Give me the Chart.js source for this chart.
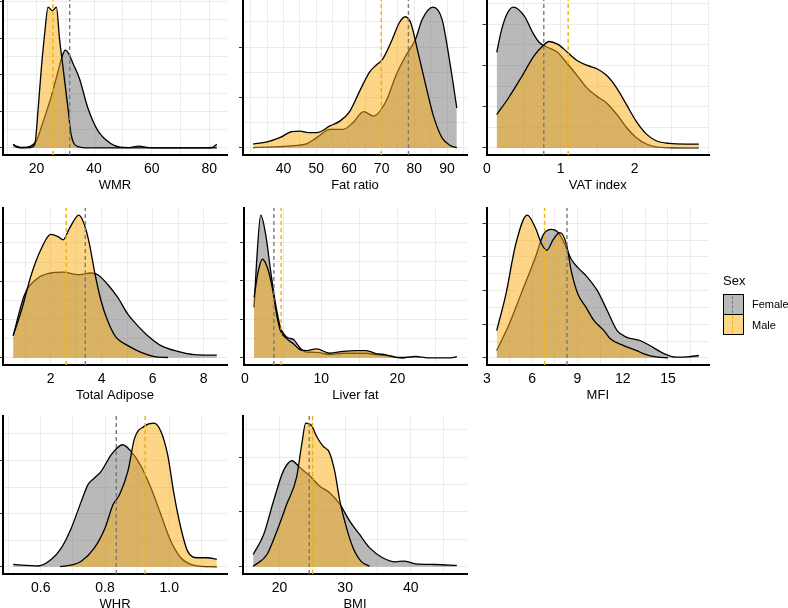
<!DOCTYPE html>
<html>
<head>
<meta charset="utf-8">
<script src="https://cdn.jsdelivr.net/npm/chart.js@4.4.1/dist/chart.umd.min.js"></script>
<style>
  body { margin: 0; width: 788px; height: 608px; overflow: hidden; background: #fff; position: relative;
         font-family: "Liberation Sans", Arial, sans-serif; }
  .panel { position: absolute; }
  .lg-title { position: absolute; font-size: 13px; color: #000; }
  .key { position: absolute; width: 21px; height: 21px; box-sizing: border-box; border: 1.5px solid #000; }
  .key span { position: absolute; left: 8px; top: 1px; bottom: 1px; border-left: 1.4px dashed; }
  .lab { position: absolute; font-size: 11px; color: #000; }
</style>
</head>
<body>
<div id="panels"></div>
<div class="lg-title" style="left:723px;top:273px">Sex</div>
<div class="key" id="keyF" style="left:723px;top:294px"><span id="dashF"></span></div>
<div class="key" id="keyM" style="left:723px;top:314px"><span id="dashM"></span></div>
<div class="lab" style="left:752px;top:298px">Female</div>
<div class="lab" style="left:752px;top:319px">Male</div>
<script>
// density curves (x, density) per sex and panel
const wmrFemaleX = [11.9, 13, 15, 18, 20, 22, 25, 27.5, 29, 30, 31, 32.7, 34.9, 37.8, 41.3, 45.9, 49, 52, 55.5, 59, 65, 75, 81, 82.6];
const wmrFemaleY = [0.004, 0.002, 0.0005, 0.002, 0.008, 0.026, 0.055, 0.084, 0.101, 0.107, 0.104, 0.092, 0.076, 0.044, 0.019, 0.0046, 0.0008, 0.0003, 0.002, 0.0003, 0, 0, 0.0005, 0.004];
const wmrMaleX = [11.9, 13, 16, 18, 19.4, 20.6, 21.7, 22.9, 24, 25.5, 26.9, 28, 29.2, 30.9, 32, 34.4, 38, 50, 70, 82.6];
const wmrMaleY = [0.004, 0.001, 0, 0.0005, 0.004, 0.044, 0.088, 0.127, 0.154, 0.150, 0.154, 0.119, 0.088, 0.044, 0.015, 0.0015, 0, 0, 0, 0];

const fatFemaleX = [30.7, 35, 39, 43, 47, 50, 54.2, 58.2, 61.2, 64.5, 67.5, 71.3, 74.4, 77.5, 80.4, 82.4, 85.7, 88.5, 91, 93];
const fatFemaleY = [0.0002, 0.0004, 0.0007, 0.0012, 0.002, 0.005, 0.0092, 0.0092, 0.0125, 0.018, 0.0158, 0.023, 0.036, 0.046, 0.054, 0.0636, 0.0698, 0.0636, 0.041, 0.0198];
const fatMaleX = [30.7, 35, 39, 42.5, 45, 47.6, 50.1, 54.2, 57.2, 60.2, 63.2, 66.3, 68.3, 70.3, 73.3, 75.4, 77.2, 78.9, 80.9, 83.5, 86, 88.5, 91, 93];
const fatMaleY = [0.0019, 0.003, 0.0052, 0.0081, 0.0083, 0.0076, 0.0076, 0.0109, 0.0133, 0.018, 0.0279, 0.0376, 0.041, 0.044, 0.054, 0.062, 0.065, 0.062, 0.049, 0.031, 0.015, 0.005, 0.0012, 0.0002];

const vatFemaleX = [0.133, 0.2, 0.28, 0.356, 0.51, 0.62, 0.71, 0.82, 0.956, 1.09, 1.22, 1.36, 1.49, 1.62, 1.76, 1.89, 2.02, 2.16, 2.29, 2.5, 2.87];
const vatFemaleY = [0.927, 1.15, 1.31, 1.366, 1.276, 1.118, 1.022, 0.976, 0.928, 0.816, 0.704, 0.578, 0.5, 0.436, 0.324, 0.198, 0.102, 0.038, 0.01, 0.002, 0];
const vatMaleX = [0.133, 0.29, 0.47, 0.64, 0.76, 0.84, 0.956, 1.09, 1.22, 1.36, 1.49, 1.62, 1.76, 1.89, 2.02, 2.16, 2.29, 2.47, 2.7, 2.87];
const vatMaleY = [0.324, 0.482, 0.69, 0.896, 0.99, 1.032, 1.006, 0.928, 0.848, 0.8, 0.768, 0.704, 0.578, 0.42, 0.26, 0.134, 0.07, 0.044, 0.038, 0.038];

const adiFemaleX = [0.53, 0.98, 1.5, 2.0, 2.49, 3.07, 3.59, 3.85, 4.24, 4.64, 5.03, 5.42, 5.81, 6.33, 6.99, 7.64, 8.52];
const adiFemaleY = [0.058, 0.1655, 0.2085, 0.2215, 0.224, 0.217, 0.2215, 0.217, 0.1915, 0.157, 0.114, 0.0835, 0.058, 0.032, 0.017, 0.0085, 0.007];
const adiMaleX = [0.53, 0.85, 1.24, 1.64, 2.0, 2.29, 2.49, 2.74, 3.11, 3.33, 3.53, 3.72, 3.98, 4.24, 4.57, 5.03, 5.55, 6.07, 6.6];
const adiMaleY = [0.058, 0.1225, 0.217, 0.286, 0.3225, 0.3165, 0.308, 0.338, 0.3725, 0.3465, 0.295, 0.226, 0.1485, 0.0965, 0.0535, 0.032, 0.0145, 0.0035, 0.001];

const livFemaleX = [1.2, 1.6, 2.07, 2.72, 3.37, 4.02, 4.66, 5.53, 6.39, 7.25, 8.1, 9.4, 11.1, 12.9, 14.6, 15.9, 17.2, 18.5, 19.8, 21, 22.4, 24, 27, 27.8];
const livFemaleY = [0.131, 0.27, 0.3705, 0.3205, 0.226, 0.1395, 0.0795, 0.0535, 0.0475, 0.025, 0.015, 0.0145, 0.0085, 0.012, 0.012, 0.012, 0.0085, 0.006, 0.0015, 0.001, 0.0035, 0, 0, 0.0035];
const livMaleX = [1.2, 1.7, 2.29, 2.94, 3.58, 4.23, 4.66, 5.53, 6.39, 7.25, 8.1, 9.4, 11.1, 12.9, 14.6, 15.9, 17.2, 18.5, 19.8, 21];
const livMaleY = [0.157, 0.22, 0.256, 0.2345, 0.183, 0.105, 0.0705, 0.049, 0.036, 0.021, 0.019, 0.0235, 0.012, 0.017, 0.019, 0.019, 0.011, 0.008, 0.0015, 0];

const mfiFemaleX = [3.65, 4.48, 5.34, 6.21, 6.75, 7.29, 7.73, 8.16, 8.59, 9.03, 9.68, 10.33, 10.98, 11.63, 12.28, 13.15, 13.8, 14.67, 15.54, 16.3, 17.05];
const mfiFemaleY = [0.0108, 0.0503, 0.0995, 0.149, 0.1835, 0.1908, 0.186, 0.1688, 0.1465, 0.134, 0.1193, 0.0995, 0.07, 0.0405, 0.0305, 0.0258, 0.0183, 0.007, 0.001, 0.0015, 0.0035];
const mfiMaleX = [3.65, 4.26, 4.91, 5.67, 6.21, 6.64, 6.97, 7.40, 7.84, 8.27, 8.59, 9.03, 9.57, 10.1, 10.76, 11.2, 12.06, 12.93, 13.4, 14.3, 15];
const mfiMaleY = [0.0405, 0.0948, 0.1688, 0.212, 0.1933, 0.1688, 0.1598, 0.176, 0.186, 0.1688, 0.1293, 0.0948, 0.075, 0.0553, 0.0405, 0.028, 0.0183, 0.0108, 0.006, 0.001, 0];

const whrFemaleX = [0.514, 0.54, 0.592, 0.633, 0.664, 0.695, 0.726, 0.747, 0.767, 0.788, 0.819, 0.855, 0.881, 0.912, 0.943, 0.974, 1.005, 1.036, 1.067, 1.1, 1.148];
const whrFemaleY = [0.1125, 0.075, 0.0375, 0.35, 0.8875, 1.825, 3.075, 3.8625, 4.175, 4.4875, 5.2625, 5.7375, 5.425, 4.725, 3.7, 2.45, 1.2, 0.425, 0.1125, 0.025, 0];
const whrMaleX = [0.66, 0.7, 0.726, 0.767, 0.8, 0.825, 0.845, 0.871, 0.892, 0.922, 0.952, 0.974, 0.995, 1.015, 1.036, 1.057, 1.088, 1.119, 1.148];
const whrMaleY = [0.0125, 0.1, 0.2625, 0.8875, 1.825, 2.925, 3.3875, 4.4875, 6.05, 6.6, 6.75, 6.3625, 5.2625, 3.3875, 1.825, 0.7375, 0.425, 0.425, 0.35];

const bmiFemaleX = [16, 17.6, 19.1, 20.6, 21.9, 23.1, 24.6, 26.1, 27.6, 29.2, 30.7, 32.2, 33.7, 35.7, 37.7, 38.9, 40.7, 43.8, 47];
const bmiFemaleY = [0.009, 0.0236, 0.048, 0.07, 0.0774, 0.0724, 0.0664, 0.059, 0.0542, 0.0456, 0.0334, 0.0236, 0.014, 0.0066, 0.0036, 0.0042, 0.0022, 0.0017, 0.001];
const bmiMaleX = [16, 18.1, 19.6, 21.1, 22.6, 23.4, 24.0, 24.9, 25.6, 26.6, 27.6, 28.4, 29.2, 30.2, 31.2, 32.4, 33.7];
const bmiMaleY = [0.0004, 0.009, 0.026, 0.0456, 0.0652, 0.0896, 0.1048, 0.103, 0.0956, 0.0882, 0.0834, 0.07, 0.048, 0.0286, 0.014, 0.0042, 0.0004];

// group means (dashed lines), in panel order
const titles = ["WMR", "Fat ratio", "VAT index", "Total Adipose", "Liver fat", "MFI", "WHR", "BMI"];
const femaleMeans = [31.5, 78.2, 0.77, 3.36, 3.8, 8.31, 0.835, 24.53];
const maleMeans = [25.7, 69.9, 1.10, 2.61, 4.75, 6.82, 0.925, 25.04];

// x tick labels per panel
const wmrTicks = ["20", "40", "60", "80"];
const fatTicks = ["40", "50", "60", "70", "80", "90"];
const vatTicks = ["0", "1", "2"];
const adiTicks = ["2", "4", "6", "8"];
const livTicks = ["0", "10", "20"];
const mfiTicks = ["3", "6", "9", "12", "15"];
const whrTicks = ["0.6", "0.8", "1.0"];
const bmiTicks = ["20", "30", "40"];
// density grid spacing per panel
const yGridSteps = [0.02, 0.0125, 0.2, 0.05, 0.05, 0.025, 1.25, 0.02];

const FEMALE_FILL = "rgba(115,115,115,0.5)";
const MALE_FILL = "rgba(251,171,15,0.5)";
const FEMALE_DASH = "#7a7a7a";
const MALE_DASH = "#f2b200";
const FONT = '"Liberation Sans", Arial, sans-serif';

const colLeft = [3, 243, 485];
const rowTop = [0, 208, 416];
const rowBottom = [155, 365, 574];
const PANEL_W = 224, Y_W = 8, PAD_T = 2, PAD_R = 12, X_H = 40;

const panels = [
  [wmrFemaleX, wmrFemaleY, wmrMaleX, wmrMaleY, wmrTicks],
  [fatFemaleX, fatFemaleY, fatMaleX, fatMaleY, fatTicks],
  [vatFemaleX, vatFemaleY, vatMaleX, vatMaleY, vatTicks],
  [adiFemaleX, adiFemaleY, adiMaleX, adiMaleY, adiTicks],
  [livFemaleX, livFemaleY, livMaleX, livMaleY, livTicks],
  [mfiFemaleX, mfiFemaleY, mfiMaleX, mfiMaleY, mfiTicks],
  [whrFemaleX, whrFemaleY, whrMaleX, whrMaleY, whrTicks],
  [bmiFemaleX, bmiFemaleY, bmiMaleX, bmiMaleY, bmiTicks]
];

Chart.defaults.font.family = FONT;

const pts = (xs, ys) => xs.map((x, i) => ({ x: x, y: ys[i] }));

panels.forEach(([fx, fy, mx, my, ticks], i) => {
  const col = i % 3, row = Math.floor(i / 3);
  const ph = rowBottom[row] - rowTop[row];
  const w = Y_W + PANEL_W + PAD_R, h = PAD_T + ph + X_H;

  const wrap = document.createElement("div");
  wrap.className = "panel";
  wrap.style.left = (colLeft[col] - Y_W) + "px";
  wrap.style.top = (rowTop[row] - PAD_T) + "px";
  const cv = document.createElement("canvas");
  cv.width = w; cv.height = h;
  cv.style.width = w + "px"; cv.style.height = h + "px";
  wrap.appendChild(cv);
  document.getElementById("panels").appendChild(wrap);

  // ggplot-style 5% expansion
  const lo = Math.min(fx[0], mx[0]), hi = Math.max(fx[fx.length - 1], mx[mx.length - 1]);
  const xMin = lo - 0.05 * (hi - lo), xMax = hi + 0.05 * (hi - lo);
  const top = Math.max(...fy, ...my);
  const yMin = -0.05 * top, yMax = 1.05 * top;
  const step = yGridSteps[i];

  const tv = ticks.map(parseFloat);
  const half = (tv[1] - tv[0]) / 2;
  const xGrid = [];
  for (let k = Math.ceil((xMin - tv[0]) / half - 1e-9); tv[0] + k * half <= xMax + 1e-9; k++) {
    xGrid.push(+(tv[0] + k * half).toFixed(6));
  }
  const yGrid = [];
  for (let k = 0; k * step <= yMax; k++) yGrid.push(+(k * step).toFixed(6));

  const vline = (m, color) => ({
    data: [{ x: m, y: yMin }, { x: m, y: yMax }],
    borderColor: color, borderWidth: 1.4, borderDash: [4, 3],
    pointRadius: 0, fill: false
  });
  const curve = (data, fill) => ({
    data: data, borderColor: "#000", borderWidth: 1.3, backgroundColor: fill,
    fill: "origin", pointRadius: 0, cubicInterpolationMode: "monotone"
  });

  new Chart(cv, {
    type: "line",
    data: {
      datasets: [
        vline(femaleMeans[i], FEMALE_DASH),
        vline(maleMeans[i], MALE_DASH),
        curve(pts(mx, my), MALE_FILL),
        curve(pts(fx, fy), FEMALE_FILL)
      ]
    },
    options: {
      responsive: false,
      animation: false,
      layout: { padding: { top: PAD_T, right: PAD_R, left: 0, bottom: 0 } },
      plugins: { legend: { display: false }, tooltip: { enabled: false } },
      scales: {
        x: {
          type: "linear", min: xMin, max: xMax,
          afterBuildTicks: s => { s.ticks = xGrid.map(v => ({ value: v })); },
          afterFit: s => { s.height = X_H; },
          grid: { color: "#ebebeb", lineWidth: 1, drawTicks: false },
          border: { color: "#000", width: 2 },
          ticks: {
            autoSkip: false, maxRotation: 0, padding: 6, color: "#000",
            font: { size: 14 },
            callback: v => {
              const j = tv.findIndex(t => Math.abs(t - v) < 1e-6);
              return j >= 0 ? ticks[j] : "";
            }
          },
          title: { display: true, text: titles[i], color: "#000", font: { size: 13 }, padding: { top: 0, bottom: 2 } }
        },
        y: {
          type: "linear", min: yMin, max: yMax,
          afterBuildTicks: s => { s.ticks = yGrid.map(v => ({ value: v })); },
          afterFit: s => { s.width = Y_W; },
          grid: {
            color: "#ebebeb", lineWidth: 1, drawTicks: true, tickLength: 4,
            tickColor: c => (Math.round(c.tick.value / step) % 2 === 0 ? "#333" : "rgba(0,0,0,0)")
          },
          border: { color: "#000", width: 2 },
          ticks: { display: false }
        }
      }
    }
  });
});

// legend keys use the same colours as the fills
document.getElementById("keyF").style.background = FEMALE_FILL;
document.getElementById("keyM").style.background = MALE_FILL;
document.getElementById("dashF").style.borderColor = FEMALE_DASH;
document.getElementById("dashM").style.borderColor = MALE_DASH;
</script>
</body>
</html>
